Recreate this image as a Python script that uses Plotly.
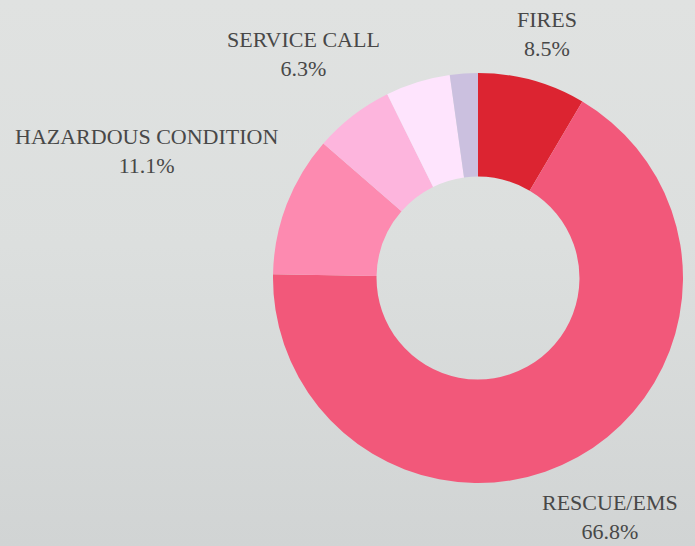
import plotly.graph_objects as go

categories = ["FIRES", "RESCUE/EMS", "HAZARDOUS CONDITION", "SERVICE CALL", "OTHER A", "OTHER B"]
values = [8.5, 66.8, 11.1, 6.3, 5.1, 2.2]
colors = ["#dc2431", "#f2587a", "#fd8ab0", "#fdb5dd", "#fee4fd", "#cbc0df"]
shown_labels = ["FIRES", "RESCUE/EMS", "HAZARDOUS CONDITION", "SERVICE CALL"]

W, H = 695, 546
# label centre positions in pixels (x, y of centre of two-line block)
label_pos = {
    "FIRES": (547, 34),
    "RESCUE/EMS": (610, 517),
    "HAZARDOUS CONDITION": (146, 151),
    "SERVICE CALL": (303, 54),
}

fig = go.Figure(go.Pie(
    labels=categories, values=values, sort=False, direction="clockwise", rotation=0,
    hole=0.495, marker=dict(colors=colors, line=dict(width=0)),
    textinfo="none", hoverinfo="label+percent", showlegend=False,
    domain=dict(x=[(478 - 205) / W, (478 + 205) / W], y=[(546 - 483) / H, (546 - 73) / H]),
))

for name, val in zip(categories, values):
    if name in shown_labels:
        px, py = label_pos[name]
        fig.add_annotation(
            x=px / W, y=1 - py / H, xref="paper", yref="paper",
            text=f"{name}<br>{val:.1f}%", showarrow=False, align="center",
            xanchor="center", yanchor="middle",
            font=dict(family="Liberation Serif", size=22, color="#484848"),
        )

fig.update_layout(
    width=W, height=H, margin=dict(l=0, r=0, t=0, b=0),
    paper_bgcolor="rgba(0,0,0,0)", plot_bgcolor="rgba(0,0,0,0)",
)
fig.write_html(
    "out.html",
    config={"displayModeBar": False},
    post_script=(
        "document.body.style.margin='0';"
        "document.documentElement.style.background='linear-gradient(180deg,#e0e2e1 0%,#dcdfde 45%,#d1d4d4 100%)';"
        "document.documentElement.style.minHeight='100%';"
    ),
)
